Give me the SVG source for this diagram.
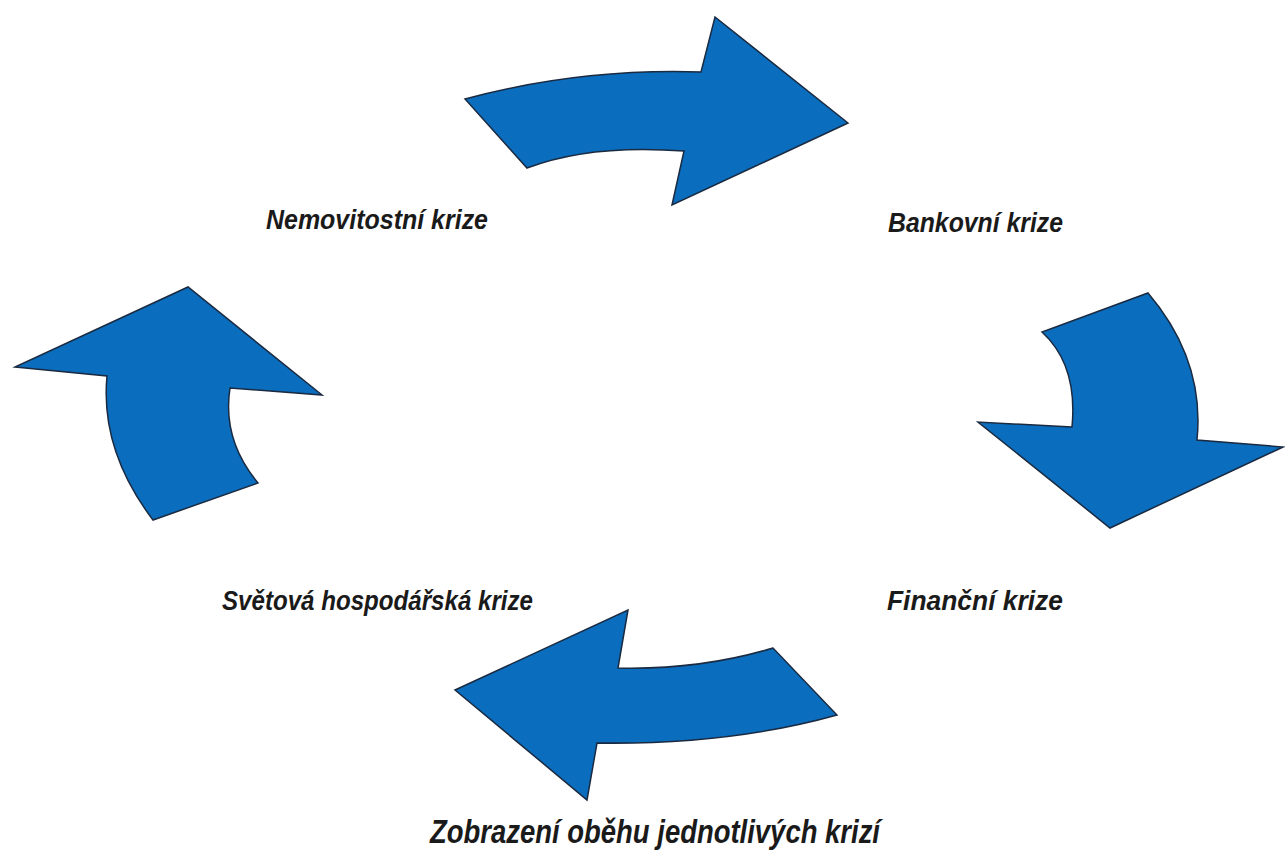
<svg xmlns="http://www.w3.org/2000/svg" width="1285" height="854" viewBox="0 0 1285 854">
<style>
.arr{fill:#0b6dbd;stroke:#1a2a40;stroke-width:1.5;stroke-linejoin:miter}
.lbl{font-family:"Liberation Sans",Arial,sans-serif;font-weight:bold;font-style:italic;font-size:27px;fill:#1a1a1a}
.ttl{font-family:"Liberation Sans",Arial,sans-serif;font-weight:bold;font-style:italic;font-size:33px;fill:#1a1a1a}
</style>
<rect width="1285" height="854" fill="#ffffff"/>
<g id="connectors">
<path id="arrow-top" class="arr" d="M465,99 Q580,68 701,72 L715,17 L848,123 L672,205 L684,151 Q590,144 527,168 Z"/>
<path id="arrow-right" class="arr" d="M1148,293 Q1205,360 1197,440 L1283,447 L1110,528 L978,422 L1072,427 Q1078,365 1042,332 Z"/>
<path id="arrow-bottom" class="arr" d="M773,648 Q700,670 618,668 L628,610 L455,690 L587,800 L597,743 Q730,745 837,715 Z"/>
<path id="arrow-left" class="arr" d="M153,520 Q100,450 107,376 L15,367 L188,287 L322,395 L230,388 Q222,440 258,483 Z"/>
</g>
<g id="node-nemovitostni"><text class="lbl" x="266" y="229" textLength="222" lengthAdjust="spacingAndGlyphs">Nemovitostní krize</text></g>
<g id="node-bankovni"><text class="lbl" x="888" y="232" textLength="175" lengthAdjust="spacingAndGlyphs">Bankovní krize</text></g>
<g id="node-financni"><text class="lbl" x="887" y="610" textLength="176" lengthAdjust="spacingAndGlyphs">Finanční  krize</text></g>
<g id="node-svetova"><text class="lbl" x="222" y="610" textLength="311" lengthAdjust="spacingAndGlyphs">Světová hospodářská krize</text></g>
<g id="title"><text class="ttl" x="430" y="843" textLength="450" lengthAdjust="spacingAndGlyphs">Zobrazení oběhu jednotlivých krizí</text></g>
</svg>
